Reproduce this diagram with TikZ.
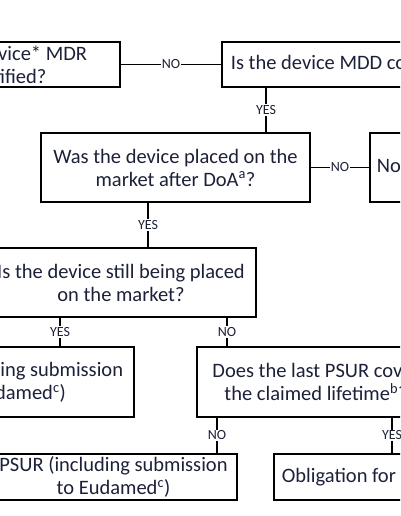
\documentclass[tikz,border=0pt]{standalone}
\usepackage{fontspec}
\setmainfont{Carlito}
\definecolor{inkblue}{RGB}{28,32,56}
\tikzset{
  qbox/.style = {draw = black, line width = 1.8pt, align = center, text = inkblue,
    font = \fontsize{20.5}{23}\selectfont, inner sep = 0pt},
  lbl/.style = {fill = white, text = inkblue, inner sep = 1pt,
    font = \fontsize{14}{15}\selectfont},
  link/.style = {draw = black, line width = 1.8pt}
}
\begin{document}
\begin{tikzpicture}[x = 1pt, y = -1pt]
\useasboundingbox (0,0) rectangle (400,516);
\clip (0,0) rectangle (400,516);
\node[qbox, minimum width = 226pt, minimum height = 45pt] (mdr) at (7,64.5) {Is the device* MDR\\certified?};
\node[qbox, anchor = west, minimum height = 45pt, inner xsep = 9pt] (mdd) at (221,64.5) {Is the device MDD compliant?};
\node[qbox, minimum width = 269pt, minimum height = 69pt] (doa) at (175.5,167.5) {Was the device placed on the\\market after DoA\textsuperscript{a}?};
\node[qbox, anchor = west, minimum height = 69pt, inner xsep = 7pt] (nopsur) at (369,167.5) {No PSUR obligation};
\node[qbox, minimum width = 270pt, minimum height = 69pt] (still) at (121,282.5) {Is the device still being placed\\on the market?};
\node[qbox, minimum width = 250pt, minimum height = 70pt] (psura) at (9,382) {PSUR (including submission\\to Eudamed\textsuperscript{c})};
\node[qbox, minimum width = 238pt, minimum height = 70pt] (life) at (316,382) {Does the last PSUR cover\\the claimed lifetime\textsuperscript{b}?};
\node[qbox, minimum width = 247pt, minimum height = 46pt] (psurb) at (113.5,477) {PSUR (including submission\\to Eudamed\textsuperscript{c})};
\node[qbox, anchor = west, minimum height = 46pt, inner xsep = 8pt] (oblig) at (273,477) {Obligation for PSUR};
\coordinate (cmdd) at (266,0);
\coordinate (cdoa) at (148,0);
\coordinate (cyes) at (60,0);
\coordinate (cno) at (227,0);
\coordinate (lno) at (217,0);
\coordinate (lyes) at (392,0);
\draw[link] (mdr.east) -- node[lbl] {NO} (mdd.west);
\draw[link] (cmdd |- mdd.south) -- node[lbl] {YES} (cmdd |- doa.north);
\draw[link] (doa.east) -- node[lbl] {NO} (nopsur.west);
\draw[link] (cdoa |- doa.south) -- node[lbl] {YES} (cdoa |- still.north);
\draw[link] (cyes |- still.south) -- node[lbl] {YES} (cyes |- psura.north);
\draw[link] (cno |- still.south) -- node[lbl] {NO} (cno |- life.north);
\draw[link] (lno |- life.south) -- node[lbl] {NO} (lno |- psurb.north);
\draw[link] (lyes |- life.south) -- node[lbl] {YES} (lyes |- oblig.north);
\end{tikzpicture}
\end{document}
